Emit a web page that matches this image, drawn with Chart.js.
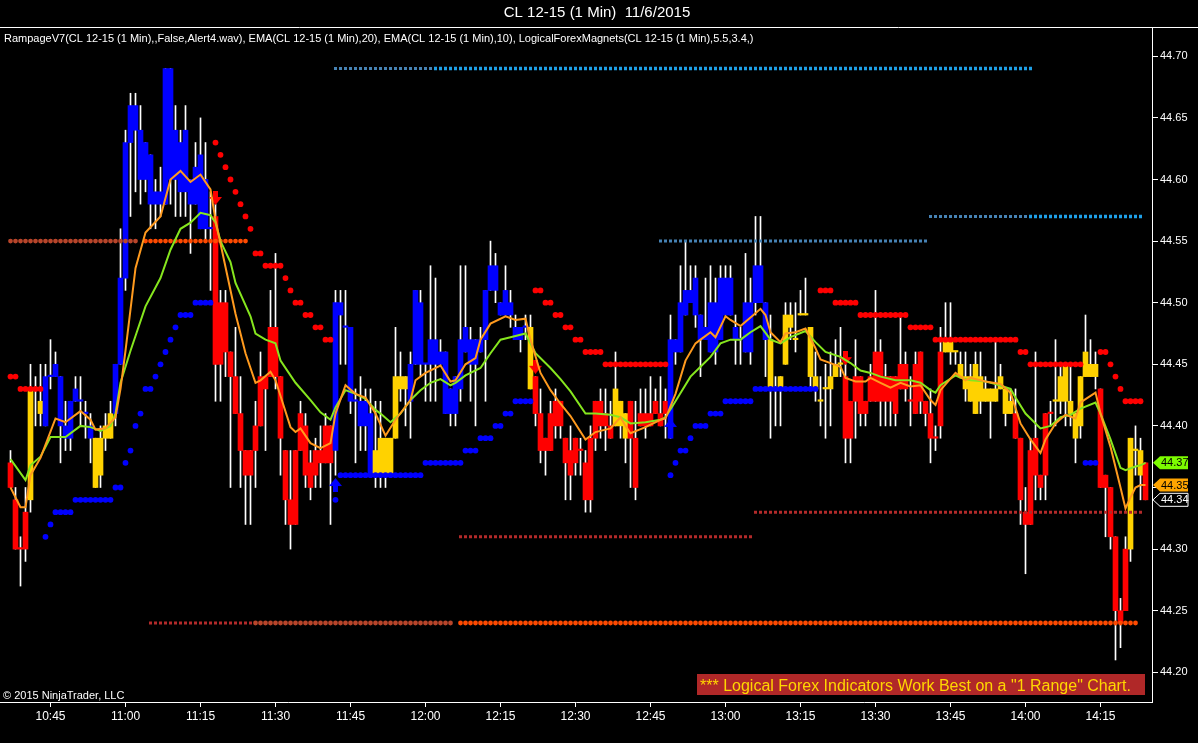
<!DOCTYPE html>
<html>
<head>
<meta charset="utf-8">
<title>CL 12-15 (1 Min) 11/6/2015</title>
<script src="https://cdn.jsdelivr.net/npm/chart.js@4.4.0/dist/chart.umd.min.js"></script>
<style>
html, body { margin: 0; padding: 0; background: #000; }
#wrap { position: relative; width: 1198px; height: 743px; }
canvas { display: block; }
</style>
</head>
<body>
<div id="wrap"><canvas id="chartOne" width="1198" height="743"></canvas></div>
<script>
// texts
const chartTitle = 'CL 12-15 (1 Min)  11/6/2015';
const indicatorLine = 'RampageV7(CL 12-15 (1 Min),,False,Alert4.wav), EMA(CL 12-15 (1 Min),20), EMA(CL 12-15 (1 Min),10), LogicalForexMagnets(CL 12-15 (1 Min),5.5,3.4,)';
const copyrightText = '\u00A9 2015 NinjaTrader, LLC';
const bannerText = '*** Logical Forex Indicators Work Best on a "1 Range" Chart.';

// axes
const firstBarTime = '10:37';
const tickLabels = ['10:45','11:00','11:15','11:30','11:45','12:00','12:15','12:30','12:45','13:00','13:15','13:30','13:45','14:00','14:15'];
const priceTicks = [44.20, 44.25, 44.30, 44.35, 44.40, 44.45, 44.50, 44.55, 44.60, 44.65, 44.70];

// 1 minute bars, one per minute from 10:37
const openPx = [
 44.37,44.34,44.30,44.33,44.34,44.43,44.42,44.40,44.44,44.44,
 44.44,44.40,44.39,44.42,44.42,44.41,44.40,44.39,44.36,44.39,
 44.39,44.41,44.45,44.52,44.63,44.66,44.64,44.60,44.62,44.58,
 44.59,44.58,44.69,44.60,44.63,44.59,44.60,44.58,44.62,44.56,
 44.56,44.57,44.50,44.50,44.46,44.44,44.41,44.38,44.38,44.38,
 44.40,44.44,44.44,44.48,44.44,44.38,44.34,44.38,44.38,44.40,
 44.37,44.36,44.38,44.37,44.40,44.38,44.50,44.48,44.48,44.42,
 44.42,44.42,44.41,44.38,44.36,44.39,44.36,44.39,44.44,44.44,
 44.42,44.45,44.50,44.45,44.45,44.47,44.45,44.46,44.43,44.41,
 44.43,44.46,44.47,44.45,44.47,44.47,44.51,44.53,44.50,44.49,
 44.50,44.48,44.48,44.48,44.48,44.44,44.41,44.39,44.41,44.42,
 44.42,44.39,44.38,44.39,44.38,44.37,44.39,44.42,44.42,44.41,
 44.40,44.40,44.42,44.41,44.42,44.39,44.41,44.41,44.41,44.41,
 44.41,44.41,44.39,44.47,44.46,44.49,44.51,44.49,44.49,44.48,
 44.46,44.50,44.47,44.52,44.49,44.48,44.47,44.46,44.50,44.50,
 44.53,44.50,44.47,44.43,44.44,44.45,44.49,44.47,44.49,44.49,
 44.48,44.44,44.42,44.43,44.43,44.44,44.45,44.44,44.42,44.44,
 44.44,44.42,44.42,44.42,44.46,44.42,44.44,44.44,44.43,44.45,
 44.42,44.45,44.42,44.42,44.41,44.39,44.40,44.46,44.47,44.46,
 44.44,44.44,44.44,44.41,44.44,44.43,44.42,44.43,44.43,44.43,
 44.42,44.41,44.39,44.33,44.32,44.39,44.36,44.36,44.41,44.42,
 44.42,44.42,44.42,44.41,44.40,44.44,44.45,44.44,44.43,44.36,
 44.35,44.31,44.25,44.25,44.30,44.38,44.38,44.37
];
const highPx = [
 44.38,44.35,44.31,44.35,44.45,44.44,44.45,44.45,44.47,44.46,
 44.44,44.42,44.42,44.44,44.44,44.42,44.41,44.39,44.40,44.41,
 44.42,44.45,44.56,44.64,44.67,44.67,44.66,44.63,44.62,44.60,
 44.61,44.69,44.69,44.66,44.64,44.66,44.60,44.63,44.65,44.63,
 44.59,44.58,44.51,44.51,44.46,44.48,44.44,44.38,44.38,44.42,
 44.46,44.44,44.51,44.54,44.44,44.38,44.38,44.38,44.42,44.41,
 44.38,44.39,44.40,44.41,44.40,44.51,44.51,44.51,44.48,44.43,
 44.44,44.43,44.43,44.42,44.42,44.39,44.39,44.48,44.46,44.44,
 44.46,44.51,44.51,44.45,44.53,44.52,44.47,44.46,44.43,44.44,
 44.53,44.53,44.48,44.47,44.48,44.51,44.55,44.54,44.50,44.53,
 44.51,44.49,44.48,44.49,44.49,44.44,44.43,44.39,44.42,44.43,
 44.42,44.39,44.40,44.39,44.39,44.38,44.40,44.42,44.43,44.43,
 44.42,44.46,44.42,44.41,44.42,44.42,44.43,44.43,44.44,44.43,
 44.44,44.43,44.49,44.47,44.53,44.55,44.53,44.53,44.49,44.52,
 44.53,44.52,44.53,44.53,44.53,44.49,44.48,44.54,44.52,44.57,
 44.57,44.50,44.49,44.44,44.44,44.50,44.50,44.50,44.51,44.52,
 44.48,44.46,44.44,44.45,44.46,44.47,44.48,44.45,44.42,44.47,
 44.44,44.42,44.45,44.51,44.47,44.45,44.44,44.44,44.49,44.46,
 44.44,44.46,44.46,44.42,44.43,44.40,44.48,44.50,44.50,44.46,
 44.46,44.46,44.45,44.46,44.46,44.44,44.43,44.47,44.45,44.43,
 44.43,44.43,44.39,44.35,44.39,44.46,44.36,44.41,44.42,44.47,
 44.45,44.45,44.45,44.41,44.44,44.49,44.47,44.46,44.43,44.36,
 44.35,44.31,44.26,44.31,44.39,44.40,44.39,44.37
];
const lowPx = [
 44.35,44.30,44.27,44.29,44.33,44.40,44.40,44.40,44.43,44.44,
 44.37,44.38,44.38,44.42,44.40,44.39,44.37,44.35,44.35,44.38,
 44.39,44.40,44.45,44.51,44.57,44.59,44.58,44.59,44.56,44.56,
 44.57,44.58,44.58,44.57,44.57,44.57,44.54,44.58,44.56,44.55,
 44.51,44.42,44.42,44.44,44.35,44.41,44.35,44.32,44.32,44.35,
 44.40,44.38,44.44,44.43,44.36,44.32,44.30,44.32,44.38,44.35,
 44.34,44.35,44.35,44.37,44.32,44.36,44.45,44.45,44.41,44.37,
 44.38,44.38,44.36,44.35,44.35,44.35,44.36,44.39,44.42,44.40,
 44.39,44.45,44.44,44.42,44.42,44.42,44.45,44.41,44.40,44.40,
 44.42,44.46,44.42,44.40,44.46,44.42,44.51,44.50,44.49,44.49,
 44.48,44.47,44.46,44.47,44.43,44.40,44.37,44.36,44.38,44.39,
 44.39,44.34,44.34,44.36,44.36,44.33,44.33,44.38,44.39,44.38,
 44.39,44.40,44.39,44.37,44.35,44.34,44.40,44.39,44.40,44.41,
 44.40,44.39,44.39,44.45,44.46,44.49,44.50,44.48,44.44,44.47,
 44.46,44.45,44.47,44.49,44.49,44.45,44.45,44.46,44.45,44.49,
 44.50,44.44,44.39,44.40,44.40,44.45,44.47,44.46,44.49,44.49,
 44.43,44.42,44.40,44.39,44.40,44.44,44.44,44.37,44.37,44.39,
 44.40,44.40,44.42,44.42,44.40,44.40,44.40,44.40,44.43,44.42,
 44.40,44.41,44.41,44.40,44.37,44.38,44.39,44.46,44.45,44.45,
 44.44,44.42,44.42,44.41,44.41,44.42,44.39,44.42,44.43,44.40,
 44.41,44.39,44.32,44.28,44.32,44.34,44.34,44.34,44.40,44.40,
 44.41,44.40,44.40,44.37,44.39,44.44,44.44,44.43,44.35,44.31,
 44.30,44.21,44.22,44.25,44.29,44.36,44.34,44.34
];
const closePx = [
 44.35,44.30,44.30,44.30,44.43,44.43,44.41,44.44,44.44,44.45,
 44.40,44.39,44.42,44.43,44.42,44.41,44.39,44.35,44.39,44.40,
 44.41,44.45,44.52,44.63,44.66,44.64,44.60,44.63,44.58,44.59,
 44.58,44.69,44.60,44.64,44.59,44.64,44.58,44.61,44.56,44.60,
 44.56,44.45,44.45,44.46,44.44,44.41,44.38,44.36,44.36,44.40,
 44.44,44.43,44.48,44.44,44.39,44.34,44.32,44.32,44.41,44.36,
 44.35,44.38,44.37,44.40,44.37,44.50,44.49,44.48,44.42,44.42,
 44.40,44.40,44.36,44.36,44.39,44.36,44.39,44.44,44.43,44.43,
 44.45,44.51,44.45,44.45,44.47,44.45,44.46,44.41,44.41,44.44,
 44.47,44.48,44.45,44.47,44.46,44.51,44.53,44.51,44.49,44.51,
 44.49,44.47,44.47,44.48,44.43,44.41,44.38,44.38,44.38,44.40,
 44.40,44.37,44.36,44.37,44.38,44.34,44.34,44.39,44.40,44.40,
 44.39,44.43,44.40,44.39,44.39,44.35,44.40,44.40,44.40,44.42,
 44.40,44.42,44.47,44.46,44.50,44.51,44.50,44.52,44.47,44.47,
 44.50,44.46,44.52,44.49,44.52,44.47,44.47,44.50,44.46,44.53,
 44.50,44.47,44.43,44.43,44.43,44.49,44.48,44.47,44.49,44.49,
 44.44,44.43,44.42,44.43,44.44,44.45,44.45,44.39,44.39,44.42,
 44.41,44.41,44.44,44.46,44.42,44.44,44.42,44.41,44.45,44.43,
 44.42,44.41,44.46,44.41,44.39,44.39,44.46,44.47,44.46,44.46,
 44.45,44.43,44.42,44.45,44.42,44.42,44.43,44.42,44.44,44.41,
 44.41,44.39,44.34,44.32,44.38,44.36,44.35,44.41,44.41,44.42,
 44.44,44.45,44.41,44.39,44.44,44.46,44.44,44.45,44.35,44.35,
 44.31,44.25,44.24,44.30,44.39,44.38,44.36,44.34
];
// Rampage bar colouring: b = up, r = down, y = neutral
const barTrend =
 'rrrr' + 'yyy' + 'bbbbbbbbbb' + 'yyyy' + 'bbbbbbbbbbbbbbbbbbbb' +
 'rrrrrrrrrrrrrrrrrrrrrrrr' + 'bbbbbbbb' + 'yyyyyyy' + 'bbbbbbbbbbbbbbbbbbbbbbbb' + 'y' +
 'rrrrrrrrrrrrrrrr' + 'yyy' + 'rrrrrrrr' + 'bbbbbbbbbbbbbbbbbbbb' + 'yyyyyyyyyyyyyyy' +
 'rrrrrrrrrrrrrrrrrrrr' + 'yyyyyyyyyyyyyy' + 'rrrrrrrr' + 'yyyyyyyyy' + 'rrrrrr' + 'yyy' + 'r';

// EMA(10) and EMA(20), read at these bars
const ema10Bars = [0,2,3,4,6,9,11,14,16,17,
 19,21,22,23,25,27,30,32,34,36,
 38,40,41,43,45,47,49,50,52,53,
 56,57,58,60,62,64,65,67,69,71,
 73,75,77,80,81,83,86,88,89,91,
 93,94,96,99,101,103,104,106,108,110,
 112,115,117,120,122,123,124,127,130,131,
 133,135,137,138,140,141,143,144,146,148,
 150,151,152,154,155,157,159,161,162,164,
 166,167,169,171,172,174,176,178,180,182,
 184,185,186,189,191,192,195,198,200,202,
 204,206,207,209,211,213,214,217,218,220,
 222,223,224,225,226,227];
const ema10Vals = [44.350,44.334,44.334,44.360,44.374,44.406,44.403,44.412,44.405,44.397,
 44.398,44.407,44.430,44.461,44.528,44.557,44.570,44.600,44.607,44.598,
 44.604,44.592,44.567,44.529,44.491,44.459,44.435,44.437,44.444,44.437,
 44.399,44.395,44.398,44.386,44.382,44.386,44.410,44.433,44.426,44.423,
 44.410,44.392,44.405,44.421,44.437,44.443,44.449,44.436,44.437,44.450,
 44.455,44.470,44.483,44.489,44.486,44.487,44.470,44.443,44.429,44.418,
 44.408,44.389,44.395,44.398,44.407,44.400,44.394,44.399,44.405,44.406,
 44.426,44.453,44.467,44.470,44.476,44.472,44.489,44.486,44.481,44.488,
 44.495,44.490,44.476,44.468,44.475,44.476,44.479,44.463,44.454,44.451,
 44.448,44.439,44.436,44.436,44.439,44.435,44.431,44.435,44.432,44.433,
 44.421,44.417,44.429,44.443,44.437,44.439,44.436,44.434,44.427,44.402,
 44.389,44.378,44.389,44.402,44.409,44.406,44.419,44.427,44.410,44.383,
 44.350,44.333,44.342,44.350,44.352,44.352];
const ema20Bars = [0,3,4,6,8,11,14,16,18,20,
 21,22,24,27,30,32,34,36,38,40,
 41,42,44,45,48,49,51,53,54,57,
 60,62,64,65,67,69,71,73,74,76,
 78,80,82,84,86,88,89,91,94,96,
 98,100,103,105,108,110,112,115,117,120,
 122,124,127,130,131,133,136,138,140,142,
 144,146,148,150,152,154,156,159,161,163,
 166,168,170,172,174,177,180,182,184,185,
 186,189,190,192,195,197,200,201,203,206,
 208,210,212,214,217,218,220,222,223,225,
 226,227];
const ema20Vals = [44.373,44.356,44.368,44.375,44.391,44.391,44.400,44.399,44.396,44.400,
 44.410,44.435,44.461,44.497,44.520,44.543,44.560,44.565,44.573,44.571,
 44.565,44.550,44.533,44.516,44.489,44.475,44.470,44.467,44.453,44.435,
 44.421,44.411,44.405,44.415,44.429,44.426,44.422,44.413,44.410,44.403,
 44.410,44.421,44.429,44.435,44.438,44.433,44.435,44.441,44.447,44.459,
 44.470,44.472,44.475,44.459,44.447,44.438,44.428,44.410,44.410,44.409,
 44.407,44.402,44.403,44.405,44.407,44.420,44.440,44.448,44.456,44.467,
 44.470,44.470,44.476,44.481,44.470,44.467,44.472,44.477,44.468,44.460,
 44.456,44.451,44.445,44.443,44.440,44.437,44.437,44.435,44.429,44.427,
 44.433,44.441,44.439,44.437,44.436,44.434,44.430,44.423,44.410,44.398,
 44.400,44.407,44.409,44.414,44.419,44.410,44.389,44.366,44.364,44.367,
 44.368,44.370];

// Rampage trailing stop dots, one per bar (r = above price, b = below)
const stopVals = [
 44.44,44.44,44.43,44.43,44.43,44.43,44.43,44.31,44.32,44.33,
 44.33,44.33,44.33,44.34,44.34,44.34,44.34,44.34,44.34,44.34,
 44.34,44.35,44.35,44.37,44.38,44.40,44.41,44.43,44.43,44.44,
 44.45,44.46,44.47,44.48,44.49,44.49,44.49,44.50,44.50,44.50,
 44.50,44.63,44.62,44.61,44.60,44.59,44.58,44.57,44.56,44.54,
 44.54,44.53,44.53,44.53,44.53,44.52,44.51,44.50,44.50,44.49,
 44.49,44.48,44.48,44.47,44.47,44.34,44.36,44.36,44.36,44.36,
 44.36,44.36,44.36,44.36,44.36,44.36,44.36,44.36,44.36,44.36,
 44.36,44.36,44.36,44.37,44.37,44.37,44.37,44.37,44.37,44.37,
 44.37,44.38,44.38,44.38,44.39,44.39,44.39,44.40,44.40,44.41,
 44.41,44.42,44.42,44.42,44.42,44.51,44.51,44.50,44.50,44.49,
 44.49,44.48,44.48,44.47,44.47,44.46,44.46,44.46,44.46,44.45,
 44.45,44.45,44.45,44.45,44.45,44.45,44.45,44.45,44.45,44.45,
 44.45,44.45,44.36,44.37,44.38,44.38,44.39,44.40,44.40,44.40,
 44.41,44.41,44.41,44.42,44.42,44.42,44.42,44.42,44.42,44.43,
 44.43,44.43,44.43,44.43,44.43,44.43,44.43,44.43,44.43,44.43,
 44.43,44.43,44.51,44.51,44.51,44.50,44.50,44.50,44.50,44.50,
 44.49,44.49,44.49,44.49,44.49,44.49,44.49,44.49,44.49,44.49,
 44.48,44.48,44.48,44.48,44.48,44.47,44.47,44.47,44.47,44.47,
 44.47,44.47,44.47,44.47,44.47,44.47,44.47,44.47,44.47,44.47,
 44.47,44.47,44.46,44.46,44.45,44.45,44.45,44.45,44.45,44.45,
 44.45,44.45,44.45,44.45,44.45,44.37,44.37,44.37,44.46,44.46,
 44.45,44.44,44.43,44.42,44.42,44.42,44.42,null
];
const stopSide =
 'rrrrrrrbbb' + 'bbbbbbbbbb' + 'bbbbbbbbbb' + 'bbbbbbbbbb' + 'brrrrrrrrr' +
 'rrrrrrrrrr' + 'rrrrrbbbbb' + 'bbbbbbbbbb' + 'bbbbbbbbbb' + 'bbbbbbbbbb' +
 'bbbbbrrrrr' + 'rrrrrrrrrr' + 'rrrrrrrrrr' + 'rrbbbbbbbb' + 'bbbbbbbbbb' +
 'bbbbbbbbbb' + 'bbrrrrrrrr' + 'rrrrrrrrrr' + 'rrrrrrrrrr' + 'rrrrrrrrrr' +
 'rrrrrrrrrr' + 'rrrrrbbbrr' + 'rrrrrrr-';

// trend change arrows
const signalBars = [41, 105, 167, 65, 132];
const signalVals = [44.585, 44.448, 44.455, 44.352, 44.400];
const signalSide = 'rrrbb';

// LogicalForexMagnets levels (inclusive bar ranges)
const magnetVals = [44.69, 44.69, 44.57, 44.57, 44.55, 44.55, 44.55, 44.24, 44.24, 44.24, 44.31, 44.33];
const magnetFrom = [65, 85, 184, 204, 130, 0, 27, 28, 49, 90, 90, 149];
const magnetTo   = [84, 204, 203, 226, 183, 26, 48, 48, 89, 226, 148, 226];
const magnetKind = ['steel','sky','steel','sky','steel','rust','flame','maroon','rust','flame','maroon','maroon'];

// ---------------------------------------------------------------
const trendColors = { b: '#0000FF', r: '#FF0000', y: '#FFD200' };
const magnetStyle = {
    steel:  { color: '#4682B4', round: false, width: 3 },
    sky:    { color: '#1E9FE6', round: false, width: 3.5 },
    maroon: { color: '#B22A2A', round: false, width: 3 },
    rust:   { color: '#B8452A', round: true,  width: 4.8 },
    flame:  { color: '#FF4A00', round: true,  width: 4.8 }
};

function toMin(t) {
    const p = t.split(':');
    return parseInt(p[0]) * 60 + parseInt(p[1]);
}
const tickBars = tickLabels.map(t => toMin(t) - toMin(firstBarTime));

// block arrows used as point styles
function makeArrow(color, down) {
    const c = document.createElement('canvas');
    c.width = 13;
    c.height = 14;
    const g = c.getContext('2d');
    g.fillStyle = color;
    g.beginPath();
    if (down) {
        g.moveTo(4, 0); g.lineTo(9, 0); g.lineTo(9, 6); g.lineTo(13, 6);
        g.lineTo(6.5, 14); g.lineTo(0, 6); g.lineTo(4, 6);
    } else {
        g.moveTo(4, 14); g.lineTo(9, 14); g.lineTo(9, 8); g.lineTo(13, 8);
        g.lineTo(6.5, 0); g.lineTo(0, 8); g.lineTo(4, 8);
    }
    g.closePath();
    g.fill();
    return c;
}
const arrowDown = makeArrow('#FF0000', true);
const arrowUp = makeArrow('#0000FF', false);

const barIdx = openPx.map((_, i) => i);
const wickData = barIdx.map(i => ({ x: i, y: [lowPx[i], highPx[i]] }));
const bodyData = barIdx.map(i => ({ x: i, y: [Math.min(openPx[i], closePx[i]), Math.max(openPx[i], closePx[i])] }));
const bodyColors = barIdx.map(i => trendColors[barTrend[i]] || '#FFD200');

const stopPts = [];
const stopColors = [];
stopVals.forEach((v, i) => {
    if (v === null) return;
    stopPts.push({ x: i, y: v });
    stopColors.push(stopSide[i] === 'b' ? '#0000FF' : '#FF0000');
});

const datasets = [];
datasets.push({
    type: 'bar', label: 'wick', data: wickData, backgroundColor: '#FFFFFF',
    barThickness: 1, grouped: false, borderWidth: 0, order: 20
});
datasets.push({
    type: 'bar', label: 'body', data: bodyData, backgroundColor: bodyColors,
    barThickness: 5, grouped: false, borderWidth: 0, minBarLength: 1.5, order: 19
});

magnetVals.forEach((v, k) => {
    const st = magnetStyle[magnetKind[k]];
    const pad = st.round ? 0 : 0.3;
    datasets.push({
        type: 'line', label: 'magnet' + k,
        data: [{ x: magnetFrom[k] - pad, y: v }, { x: magnetTo[k] + pad, y: v }],
        borderColor: st.color, borderWidth: st.width,
        borderDash: st.round ? [0, 5] : [3, 2],
        borderCapStyle: st.round ? 'round' : 'butt',
        pointRadius: 0, tension: 0, order: 10
    });
});

datasets.push({
    type: 'scatter', label: 'stops', data: stopPts,
    backgroundColor: stopColors, borderWidth: 0, pointRadius: 2.9, order: 8
});
datasets.push({
    type: 'scatter', label: 'signals',
    data: signalBars.map((b, k) => ({ x: b, y: signalVals[k] })),
    pointStyle: signalBars.map((b, k) => signalSide[k] === 'b' ? arrowUp : arrowDown),
    pointRadius: 7, order: 7
});
datasets.push({
    type: 'line', label: 'EMA20',
    data: ema20Bars.map((b, k) => ({ x: b, y: ema20Vals[k] })),
    borderColor: '#86E61E', borderWidth: 2, pointRadius: 0, tension: 0, order: 2
});
datasets.push({
    type: 'line', label: 'EMA10',
    data: ema10Bars.map((b, k) => ({ x: b, y: ema10Vals[k] })),
    borderColor: '#FF9A1E', borderWidth: 2, pointRadius: 0, tension: 0, order: 1
});

// price tags on the right axis
function priceTag(ctx, y, text, fill, textColor, stroke) {
    const x0 = 1153, x1 = 1160, x2 = 1188, h = 6.5;
    ctx.beginPath();
    ctx.moveTo(x0, y);
    ctx.lineTo(x1, y - h);
    ctx.lineTo(x2, y - h);
    ctx.lineTo(x2, y + h);
    ctx.lineTo(x1, y + h);
    ctx.closePath();
    ctx.fillStyle = fill;
    ctx.fill();
    if (stroke) {
        ctx.strokeStyle = stroke;
        ctx.lineWidth = 1;
        ctx.stroke();
    }
    ctx.fillStyle = textColor;
    ctx.font = '11px "Liberation Sans", Arial, sans-serif';
    ctx.textAlign = 'left';
    ctx.textBaseline = 'middle';
    ctx.fillText(text, 1161, y + 0.5);
}

const chromePlugin = {
    id: 'chrome',
    beforeDraw(chart) {
        const ctx = chart.ctx;
        ctx.save();
        ctx.fillStyle = '#000';
        ctx.fillRect(0, 0, chart.width, chart.height);
        ctx.strokeStyle = '#FFFFFF';
        ctx.lineWidth = 1;
        ctx.beginPath();
        ctx.moveTo(0, 27.5);
        ctx.lineTo(chart.width, 27.5);
        ctx.stroke();
        ctx.fillStyle = '#FFFFFF';
        ctx.font = '15px "Liberation Sans", Arial, sans-serif';
        ctx.textAlign = 'center';
        ctx.textBaseline = 'middle';
        ctx.fillText(chartTitle, 597, 13);
        ctx.font = '11px "Liberation Sans", Arial, sans-serif';
        ctx.textAlign = 'left';
        ctx.fillText(indicatorLine, 4, 39);
        ctx.restore();
    },
    afterDraw(chart) {
        const ctx = chart.ctx;
        const ys = chart.scales.y;
        ctx.save();
        // copyright
        ctx.fillStyle = '#FFFFFF';
        ctx.font = '11px "Liberation Sans", Arial, sans-serif';
        ctx.textAlign = 'left';
        ctx.textBaseline = 'alphabetic';
        ctx.fillText(copyrightText, 3, 699);
        // banner
        ctx.fillStyle = '#B02828';
        ctx.fillRect(697, 674, 448, 21);
        let size = 16;
        ctx.font = size + 'px "Liberation Sans", Arial, sans-serif';
        while (ctx.measureText(bannerText).width > 442 && size > 10) {
            size -= 0.5;
            ctx.font = size + 'px "Liberation Sans", Arial, sans-serif';
        }
        ctx.fillStyle = '#FFD700';
        ctx.fillText(bannerText, 700, 691);
        // last values
        const e20 = ema20Vals[ema20Vals.length - 1];
        const e10 = ema10Vals[ema10Vals.length - 1];
        const last = closePx[closePx.length - 1];
        priceTag(ctx, ys.getPixelForValue(e20), e20.toFixed(2), '#7CFC00', '#000000');
        priceTag(ctx, ys.getPixelForValue(e10), e10.toFixed(2), '#FFA500', '#000000');
        priceTag(ctx, ys.getPixelForValue(last), last.toFixed(2), '#000000', '#FFFFFF', '#FFFFFF');
        ctx.restore();
    }
};

Chart.defaults.font.family = '"Liberation Sans", Arial, sans-serif';
Chart.defaults.color = '#FFFFFF';

var ctxOne = document.getElementById('chartOne').getContext('2d');
var chartOne = new Chart(ctxOne, {
    type: 'bar',
    data: { datasets: datasets },
    plugins: [chromePlugin],
    options: {
        responsive: false,
        animation: false,
        devicePixelRatio: 1,
        events: [],
        layout: { autoPadding: false, padding: { top: 28, left: 0, right: 0, bottom: 0 } },
        plugins: {
            legend: { display: false },
            tooltip: { enabled: false },
            title: { display: false }
        },
        scales: {
            x: {
                type: 'linear',
                offset: false,
                min: -2.1,
                max: 228.3,
                bounds: 'data',
                afterBuildTicks: s => { s.ticks = tickBars.map(v => ({ value: v })); },
                afterFit: s => { s.height = 41; },
                ticks: {
                    color: '#FFFFFF', font: { size: 12 }, padding: 2,
                    maxRotation: 0, autoSkip: false,
                    callback: (v, idx) => tickLabels[idx]
                },
                grid: { offset: false, drawOnChartArea: false, drawTicks: true, tickLength: 5, color: '#FFFFFF' },
                border: { display: true, color: '#FFFFFF', width: 1 }
            },
            y: {
                type: 'linear',
                position: 'right',
                min: 44.17589,
                max: 44.72297,
                bounds: 'data',
                afterBuildTicks: s => { s.ticks = priceTicks.map(v => ({ value: v })); },
                afterFit: s => { s.width = 46; },
                ticks: {
                    color: '#FFFFFF', font: { size: 11 }, padding: 2,
                    callback: v => Number(v).toFixed(2)
                },
                grid: { drawOnChartArea: false, drawTicks: true, tickLength: 6, color: '#FFFFFF' },
                border: { display: true, color: '#FFFFFF', width: 1 }
            }
        }
    }
});
</script>
</body>
</html>
